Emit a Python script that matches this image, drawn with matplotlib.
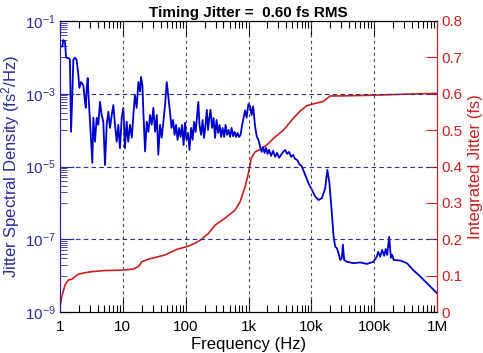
import numpy as np
import matplotlib
matplotlib.use("Agg")
import matplotlib.pyplot as plt
from matplotlib.ticker import FixedLocator, FuncFormatter, NullFormatter

plt.rcParams['font.family'] = ['Liberation Sans', 'DejaVu Sans']
plt.rcParams['mathtext.fontset'] = 'custom'
plt.rcParams['mathtext.rm'] = 'Liberation Sans'
plt.rcParams['mathtext.default'] = 'regular'

# jitter spectral density (fs^2/Hz)
psd_freq = [1, 1.09, 1.13, 1.2, 1.25, 1.39, 1.44, 1.5, 1.57, 1.63, 1.73, 1.84, 1.96, 2.03,
            2.16, 2.35, 2.5, 2.57, 2.66, 2.76, 2.82, 3.0, 3.12, 3.27, 3.39, 3.6, 3.84, 4.07,
            4.33, 4.61, 4.89, 5.2, 5.54, 5.88, 6.25, 6.65, 7.06, 7.5, 8.0, 8.47, 9.0, 9.6,
            10.2, 10.8, 11.5, 12.2, 13.0, 13.9, 14.7, 15.6, 16.6, 17.7, 18.8, 19.5, 20.5,
            21.2, 22.6, 24, 25.5, 27.1, 28.8, 30.6, 32.6, 34.7, 36.7, 39.1, 41.6, 44.2, 47,
            50, 56.5, 59.6, 63.0, 66.6, 70.3, 74.3, 78.5, 83.0, 87.7, 92.6, 97.8, 103, 109,
            115, 122, 129, 136, 144, 152, 159, 166, 176, 186, 196, 207, 217, 227, 238, 249,
            263, 278, 294, 310, 328, 346, 366, 387, 409, 432, 456, 482, 509, 538, 569, 601,
            635, 670, 708, 748, 791, 883, 933, 995, 1060, 1120, 1183, 1274, 1356, 1438, 1531,
            1618, 1708, 1803, 1905, 2013, 2128, 2290, 2466, 2654, 2853, 3070, 3304, 3556,
            3828, 4120, 4430, 4767, 5130, 5520, 5943, 6397, 7060, 7970, 9000, 10200, 11500,
            13000, 14700, 16600, 18000, 19400, 21200, 22500, 23900, 25500, 27000, 28800,
            30600, 31800, 33300, 36700, 46800, 59800, 76500, 97500, 110000, 115800, 124700,
            134000, 144300, 152400, 161000, 173400, 184500, 193500, 204600, 259000, 332000,
            423000, 540000, 690000, 880000, 1000000]
psd_val = [1.95e-2, 2e-2, 3e-2, 2.7e-2, 9.8e-3, 9.5e-3, 8.5e-3, 9e-5, 9.3e-4, 8.5e-3, 9.8e-3,
           8.5e-3, 3.3e-3, 1.45e-3, 2.1e-3, 1.7e-3, 6e-4, 4.1e-4, 1.45e-3, 2.7e-3, 1.15e-3,
           1.7e-4, 4.8e-5, 1.26e-5, 2.2e-4, 4.8e-5, 2.2e-4, 1.4e-4, 6e-4, 2.6e-4, 1.7e-4,
           1.1e-5, 1.4e-4, 3.2e-4, 1.15e-4, 2.6e-4, 4.9e-4, 1.4e-4, 4.8e-5, 1.4e-4, 3.2e-5,
           2.2e-4, 4.1e-4, 3.2e-5, 1.7e-4, 4.8e-5, 1.4e-4, 6.2e-5, 2.6e-4, 9.3e-4, 4.1e-4,
           2.1e-3, 1.15e-3, 2.9e-3, 1.7e-3, 3.2e-4, 2.6e-5, 1.7e-4, 9e-5, 2.6e-4, 1.4e-4,
           4.1e-4, 9e-5, 2.6e-4, 2.1e-5, 1.4e-4, 6.2e-5, 1.7e-4, 4.9e-4, 2.1e-3, 2.97e-4,
           1.15e-4, 1.9e-4, 7.4e-5, 1.39e-4, 5.4e-5, 1.15e-4, 6.5e-5, 1.39e-4, 3.9e-5,
           1.58e-4, 5.4e-5, 8.4e-5, 2.86e-5, 1.15e-4, 5.4e-5, 1.68e-4, 8.9e-5, 2.6e-4,
           5.96e-4, 1.39e-4, 7.4e-5, 1.9e-4, 6.1e-5, 1.39e-4, 3.6e-4, 1.01e-4, 2.16e-4,
           3.6e-4, 1.15e-4, 2.16e-4, 6.1e-5, 1.9e-4, 8.4e-5, 1.39e-4, 6.5e-5, 1.15e-4,
           6.5e-5, 1.39e-4, 7.4e-5, 1.01e-4, 6.5e-5, 1.15e-4, 6.8e-5, 8.9e-5, 6.5e-5, 8.4e-5,
           6.5e-5, 7.4e-5, 1.39e-4, 3.5e-4, 2.2e-4, 5.2e-4, 4.5e-4, 2.6e-4, 4.5e-4, 1.25e-4,
           6.6e-5, 5.4e-5, 3.5e-5, 2.52e-5, 3.45e-5, 2.37e-5, 3.24e-5, 2.22e-5, 2.86e-5,
           1.95e-5, 2.68e-5, 1.84e-5, 2.37e-5, 1.73e-5, 2.08e-5, 2.52e-5, 2.86e-5, 2.22e-5,
           2.52e-5, 1.84e-5, 2.08e-5, 1.62e-5, 1.52e-5, 1.18e-5, 1e-5, 5.9e-6, 3.5e-6,
           2.3e-6, 1.5e-6, 1.2e-6, 1.35e-6, 2.5e-6, 8.1e-6, 3.5e-6, 5.2e-7, 1.3e-7, 6.3e-8,
           5.7e-8, 4.2e-8, 2.7e-8, 3e-8, 7.1e-8, 2.7e-8, 2.4e-8, 2.2e-8, 2.3e-8, 2.1e-8,
           2.4e-8, 3.3e-8, 4.5e-8, 3.3e-8, 5.1e-8, 3.5e-8, 5.4e-8, 3.7e-8, 1.16e-7, 3.1e-8,
           3.7e-8, 2.7e-8, 2.6e-8, 2.2e-8, 1.4e-8, 9.5e-9, 6.2e-9, 4.1e-9, 3.3e-9]

# integrated jitter (fs)
int_freq = [1, 1.065, 1.2, 1.36, 1.54, 1.73, 1.96, 2.5, 3.2, 5.2, 9.6, 14.7, 17.7, 20, 25.5,
            47, 72, 110, 141, 180, 230, 294, 424, 610, 735, 883, 995, 1110, 1270, 1530, 1950,
            2490, 3600, 5200, 6600, 8400, 10700, 15600, 18000, 19900, 28800, 97500, 332000,
            1000000]
int_val = [0.015, 0.042, 0.074, 0.088, 0.09, 0.097, 0.104, 0.108, 0.111, 0.114, 0.115, 0.118,
           0.125, 0.138, 0.145, 0.157, 0.172, 0.181, 0.189, 0.2, 0.216, 0.239, 0.258, 0.28,
           0.303, 0.344, 0.381, 0.423, 0.44, 0.447, 0.459, 0.477, 0.5, 0.533, 0.552, 0.567,
           0.572, 0.579, 0.588, 0.594, 0.594, 0.596, 0.599, 0.601]

x_ticks = [1, 10, 100, 1e3, 1e4, 1e5, 1e6]
x_labels = ['1', '10', '100', '1k', '10k', '100k', '1M']
rms = 0.60

blue = '#0000cc'
navy = '#2a2a9c'
red = '#cc1f1f'

fig = plt.figure(figsize=(4.83, 3.53), dpi=100)
ax1 = fig.add_axes([60 / 483, 1 - 312 / 353, 377 / 483, 291 / 353])
ax2 = ax1.twinx()
ax1.set_zorder(ax2.get_zorder() + 1)
ax1.patch.set_visible(False)

ax1.plot(psd_freq, psd_val, color=blue, lw=1.3)
ax1.set_xscale('log')
ax1.set_yscale('log')
ax1.set_xlim(1, 1e6)
ax1.set_ylim(1e-9, 1e-1)

ax2.plot(int_freq, int_val, color=red, lw=1.2)
ax2.set_ylim(0, 0.8)

# ticks
ax1.xaxis.set_major_locator(FixedLocator(x_ticks))
ax1.xaxis.set_major_formatter(FuncFormatter(lambda v, p: x_labels[x_ticks.index(v)] if v in x_ticks else ''))
ax1.xaxis.set_minor_locator(FixedLocator([m * 10.0 ** e for e in range(0, 6) for m in range(2, 10)]))
ax1.xaxis.set_minor_formatter(NullFormatter())
ax1.yaxis.set_major_locator(FixedLocator([1e-9, 1e-7, 1e-5, 1e-3, 1e-1]))
ax1.yaxis.set_major_formatter(FuncFormatter(lambda v, p: r'$10^{%d}$' % round(np.log10(v))))
ymin = [m * 10.0 ** e for e in (-8, -6, -4, -2) for m in range(2, 10)] + [1e-8, 1e-6, 1e-4, 1e-2]
ax1.yaxis.set_minor_locator(FixedLocator(ymin))
ax1.yaxis.set_minor_formatter(NullFormatter())

ax1.tick_params(axis='x', which='both', direction='in', top=True, labelsize=11, pad=6, colors='black')
ax1.tick_params(axis='x', which='major', length=11, width=0.8)
ax1.tick_params(axis='x', which='minor', length=5, width=0.8)
ax1.tick_params(axis='y', which='both', direction='in', labelsize=11, colors=navy, pad=3)
ax1.tick_params(axis='y', which='major', length=10)
ax1.tick_params(axis='y', which='minor', length=5)

ax2.set_yticks(np.arange(0, 0.81, 0.1))
ax2.yaxis.set_major_formatter(FuncFormatter(lambda v, p: '0' if abs(v) < 1e-9 else '%.1f' % v))
ax2.tick_params(axis='y', direction='in', length=8, labelsize=11, colors=red, pad=3)

# grids
for xv in x_ticks[1:-1]:
    ax1.axvline(xv, color='#444444', ls=(0, (2.5, 3)), lw=0.8)
for yv in [1e-7, 1e-5, 1e-3]:
    ax1.axhline(yv, color=navy, ls=(0, (4, 3)), lw=0.8)

for side in ('top', 'bottom'):
    ax1.spines[side].set_color('black')
ax1.spines['left'].set_color(navy)
ax2.spines['left'].set_color(navy)
ax2.spines['right'].set_color(red)
ax1.spines['right'].set_color(red)

ax1.set_xlabel('Frequency (Hz)', fontsize=12, labelpad=2)
ax1.set_ylabel('Jitter Spectral Density (fs$^2$/Hz)', fontsize=12, color=navy, labelpad=2)
ax2.set_ylabel('Integrated Jitter (fs)', fontsize=12, color=red, labelpad=4)
ax1.set_title('Timing Jitter =  %.2f fs RMS' % rms, fontsize=11, fontweight='bold', pad=3)

fig.savefig('out.png', dpi=100)
